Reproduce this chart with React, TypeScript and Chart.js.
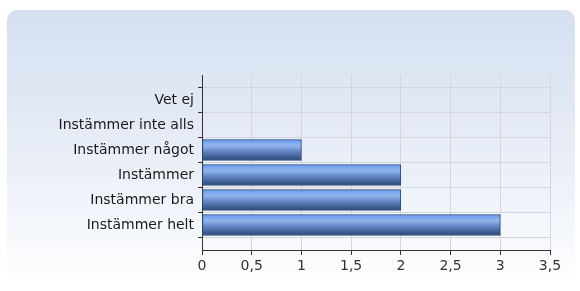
import React, { useEffect, useRef } from "react";
import { Chart, registerables } from "chart.js";

Chart.register(...registerables);

const categories = [
  "Vet ej",
  "Instämmer inte alls",
  "Instämmer något",
  "Instämmer",
  "Instämmer bra",
  "Instämmer helt",
];
const values = [0, 0, 1, 2, 2, 3];
const xTicks = [0, 0.5, 1, 1.5, 2, 2.5, 3, 3.5];

const FONT = "'DejaVu Sans', Verdana, sans-serif";
const BAR = 21;

function barFill(c: any) {
  const chart = c.chart;
  const y = chart.scales && chart.scales.y;
  if (!y || c.dataIndex === undefined) return "#5a8cd6";
  const cy = y.getPixelForValue(c.dataIndex);
  if (!isFinite(cy)) return "#5a8cd6";
  const top = cy - BAR / 2;
  const g = chart.ctx.createLinearGradient(0, top, 0, top + BAR);
  g.addColorStop(0, "#5a8de4");
  g.addColorStop(0.12, "#7aa7f0");
  g.addColorStop(0.3, "#93b4ea");
  g.addColorStop(0.55, "#6487c6");
  g.addColorStop(1, "#2a4676");
  return g;
}

export default function App() {
  const ref = useRef<HTMLCanvasElement>(null);
  useEffect(() => {
    const labels = ["", ...categories, ""];
    const data = [null, ...values, null];
    const chart = new Chart(ref.current!, {
      type: "bar",
      data: {
        labels,
        datasets: [
          {
            data,
            backgroundColor: barFill,
            borderColor: "#2a4878",
            borderWidth: 1,
            borderSkipped: false,
            barThickness: BAR,
          },
        ],
      },
      options: {
        indexAxis: "y",
        animation: false,
        responsive: false,
        maintainAspectRatio: false,
        layout: { padding: { left: 0, top: 75, right: 30, bottom: 0 } },
        plugins: { legend: { display: false }, tooltip: { enabled: false } },
        scales: {
          x: {
            type: "linear",
            min: 0,
            max: 3.5,
            afterBuildTicks: (s: any) => {
              s.ticks = xTicks.map((v) => ({ value: v }));
            },
            afterFit: (s: any) => {
              s.height = 41;
            },
            ticks: {
              color: "#333",
              font: { family: FONT, size: 14 },
              padding: 3,
              callback: (v: any) => String(v).replace(".", ","),
            },
            grid: {
              color: "#d3d6dd",
              tickColor: "#333",
              tickLength: 5,
            },
            border: { color: "#333", width: 1 },
          },
          y: {
            type: "category",
            offset: false,
            afterFit: (s: any) => {
              s.width = 202;
            },
            ticks: {
              color: "#1a1a1a",
              font: { family: FONT, size: 14 },
              padding: 4,
              autoSkip: false,
            },
            grid: {
              color: "#d3d6dd",
              tickColor: "#333",
              tickLength: 4,
            },
            border: { color: "#333", width: 1 },
          },
        },
      },
    });
    return () => chart.destroy();
  }, []);

  return (
    <div style={{ position: "absolute", left: 0, top: 0, width: 580, height: 291, background: "#fff" }}>
      <div
        style={{
          position: "absolute",
          left: 7,
          top: 10,
          width: 568,
          height: 276,
          borderRadius: 10,
          background: "linear-gradient(to bottom, #d5e0f0 0%, #e3eaf5 40%, #f7f9fc 85%, #ffffff 100%)",
        }}
      />
      <canvas ref={ref} width={580} height={291} style={{ position: "absolute", left: 0, top: 0 }} />
    </div>
  );
}
